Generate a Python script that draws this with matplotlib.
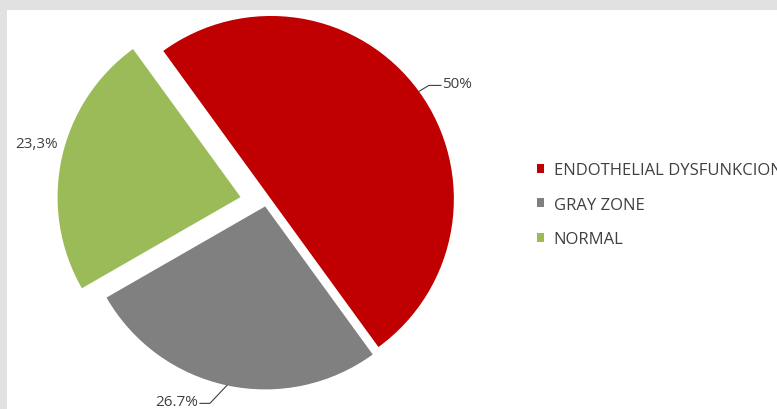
import numpy as np
import matplotlib.pyplot as plt
from matplotlib.patches import Rectangle

plt.rcParams['font.family'] = ['Open Sans', 'DejaVu Sans']

# data
categories = ['ENDOTHELIAL DYSFUNKCION', 'GRAY ZONE', 'NORMAL']
values = [50.0, 26.7, 23.3]
labels = ['50%', '26.7%', '23,3%']
colors = ['#C00000', '#808080', '#9BBB59']
explode = [6, 4, 26]

txt_color = '#404040'

fig = plt.figure(figsize=(7.77, 4.10), dpi=100)
fig.patch.set_facecolor('#e1e1e1')
ax = fig.add_axes([0, 0, 1, 1])

wedges, _ = ax.pie(values, colors=colors, startangle=126, counterclock=False,
                   radius=183, center=(266, 206.5), explode=explode,
                   wedgeprops=dict(linewidth=0))
ax.set_xlim(0, 777)
ax.set_ylim(0, 410)
ax.axis('off')
# white chart area
ax.add_patch(Rectangle((7, 0), 770, 399, facecolor='white', edgecolor='none', zorder=0))


def arc_point(w):
    mid = np.deg2rad((w.theta1 + w.theta2) / 2)
    cx, cy = w.center
    return cx + w.r * np.cos(mid), cy + w.r * np.sin(mid)


# 50% label with leader line
px, py = arc_point(wedges[0])
ax.plot([px, px + 10, px + 22], [py, py + 6, py + 6], color=txt_color, lw=0.8)
ax.text(px + 23, py + 8, labels[0], color=txt_color, fontsize=11, ha='left', va='center')

# 26.7% label with leader line
px, py = arc_point(wedges[1])
ax.plot([px, px - 17, px - 27], [py, py - 18, py - 18], color=txt_color, lw=0.8)
ax.text(px - 29, py - 16, labels[1], color=txt_color, fontsize=11, ha='right', va='center')

# 23,3% label
px, py = arc_point(wedges[2])
ax.text(px - 25, py + 15, labels[2], color=txt_color, fontsize=11, ha='center', va='center')

leg = ax.legend(wedges, categories, loc='upper left',
                bbox_to_anchor=(537 / 777, 1 - 163 / 410), frameon=False,
                fontsize=12, handlelength=0.45, handleheight=0.45,
                handletextpad=0.55, labelspacing=1.12, borderpad=0, borderaxespad=0)
for t in leg.get_texts():
    t.set_color(txt_color)

fig.savefig('out.png', dpi=100, facecolor=fig.get_facecolor())
